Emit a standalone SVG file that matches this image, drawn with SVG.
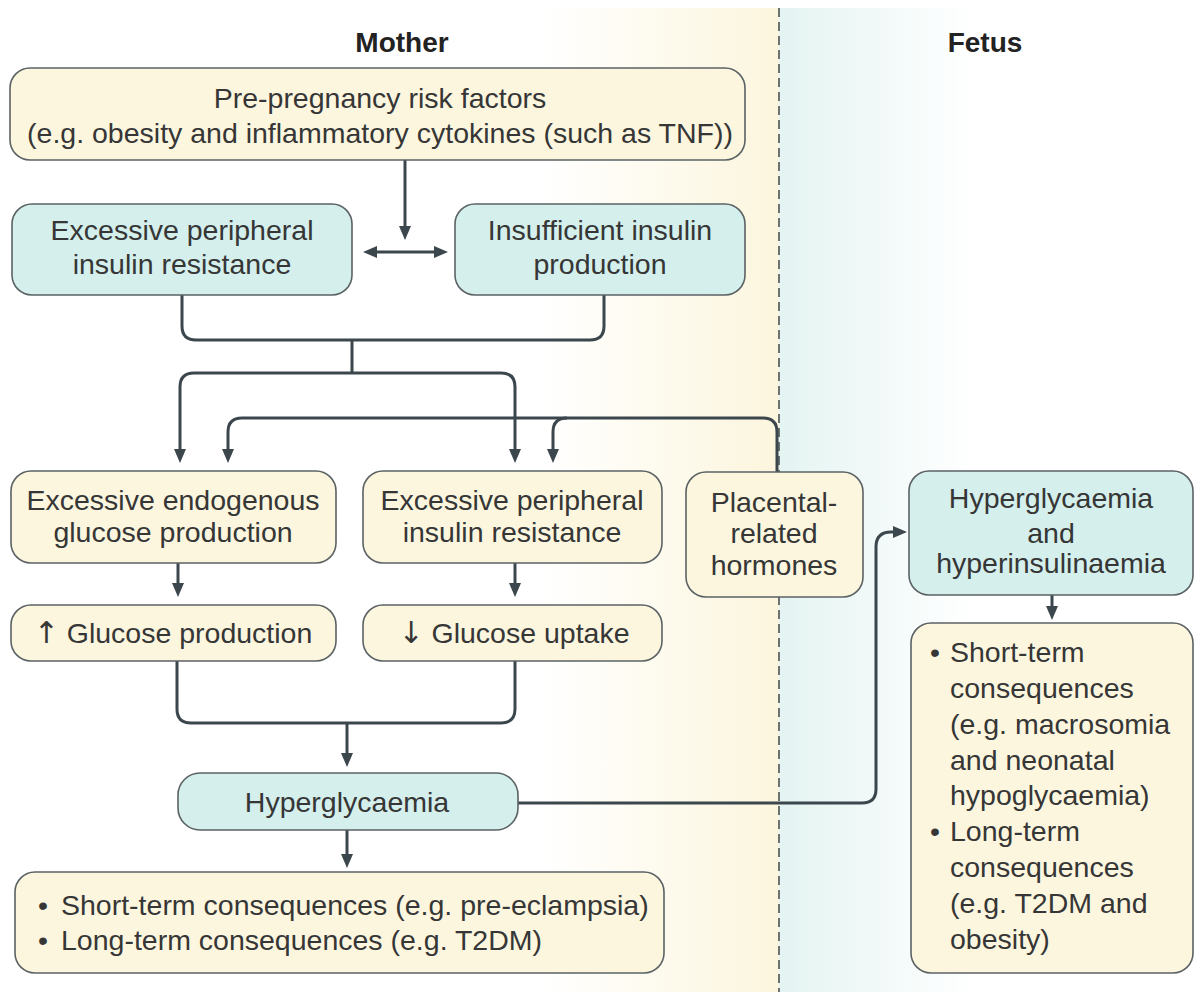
<svg xmlns="http://www.w3.org/2000/svg" width="1196" height="992" viewBox="0 0 1196 992">
<defs>
<linearGradient id="gMother" x1="540" y1="0" x2="770" y2="0" gradientUnits="userSpaceOnUse">
<stop offset="0" stop-color="#ffffff"/>
<stop offset="1" stop-color="#fcf6df"/>
</linearGradient>
<linearGradient id="gFetus" x1="780" y1="0" x2="975" y2="0" gradientUnits="userSpaceOnUse">
<stop offset="0" stop-color="#e4f4f2"/>
<stop offset="1" stop-color="#ffffff"/>
</linearGradient>
<marker id="ah" viewBox="0 0 14 12" markerWidth="14" markerHeight="12" refX="7" refY="6" orient="auto-start-reverse" markerUnits="userSpaceOnUse">
<path d="M0,0 L14,6 L0,12 z" fill="#3b474d"/>
</marker>
<style>
.cream{fill:#fcf6df;stroke:#5b6264;stroke-width:1.6}
.teal{fill:#d4efec;stroke:#5b6264;stroke-width:1.6}
.t{font-family:"Liberation Sans",Arial,sans-serif;font-size:28.5px;fill:#363636;text-anchor:middle}
.tl{font-family:"Liberation Sans",Arial,sans-serif;font-size:28.5px;fill:#363636;text-anchor:start}
.ar{font-family:"DejaVu Sans",sans-serif;font-size:30px}
.hd{font-family:"Liberation Sans",Arial,sans-serif;font-size:28px;font-weight:bold;fill:#222;text-anchor:middle}
.c{fill:none;stroke:#3b474d;stroke-width:3}
.ca{fill:none;stroke:#3b474d;stroke-width:3;marker-end:url(#ah)}
</style>
</defs>
<rect x="0" y="0" width="1196" height="992" fill="#ffffff"/>
<rect x="0" y="8" width="779" height="984" fill="url(#gMother)"/>
<rect x="779" y="8" width="417" height="984" fill="url(#gFetus)"/>
<line x1="779" y1="8" x2="779" y2="992" stroke="#4a5254" stroke-width="1.6" stroke-dasharray="9 5"/>
<text class="hd" x="402" y="52">Mother</text>
<text class="hd" x="985" y="52">Fetus</text>

<g id="connectors">
<path class="ca" d="M405,160 V233"/>
<path class="c" d="M370,252 H441" marker-start="url(#ah)" marker-end="url(#ah)"/>
<path class="c" d="M182,295 V326 Q182,340 196,340 H590 Q604,340 604,326 V295"/>
<path class="c" d="M352,340 V373"/>
<path class="ca" d="M180,456 V387 Q180,373 194,373 H501 Q515,373 515,387 V456" marker-start="url(#ah)"/>
<path class="ca" d="M777,472 V432 Q777,418 763,418 H242 Q228,418 228,432 V456"/>
<path class="ca" d="M567,418 Q553,418 553,432 V456"/>
<path class="ca" d="M178,563 V590"/>
<path class="ca" d="M515,563 V590"/>
<path class="c" d="M177,661 V709 Q177,723 191,723 H501 Q515,723 515,709 V661"/>
<path class="ca" d="M347,723 V760"/>
<path class="ca" d="M347,830 V861"/>
<path class="ca" d="M518,803 H862 Q876,803 876,789 V547 Q876,532 891,532 H900"/>
<path class="ca" d="M1052,595 V613"/>
</g>

<g id="n-prepregnancy">
<rect class="cream" x="10" y="68" width="735" height="92" rx="20"/>
<text class="t" x="380" y="108">Pre-pregnancy risk factors</text>
<text class="t" x="380" y="143">(e.g. obesity and inflammatory cytokines (such as TNF))</text>
</g>
<g id="n-resistance1">
<rect class="teal" x="12" y="204" width="340" height="91" rx="20"/>
<text class="t" x="182" y="240">Excessive peripheral</text>
<text class="t" x="182" y="274">insulin resistance</text>
</g>
<g id="n-insufficient">
<rect class="teal" x="455" y="204" width="290" height="91" rx="20"/>
<text class="t" x="600" y="240">Insufficient insulin</text>
<text class="t" x="600" y="274">production</text>
</g>
<g id="n-endogenous">
<rect class="cream" x="11" y="471" width="325" height="92" rx="20"/>
<text class="t" x="173" y="510">Excessive endogenous</text>
<text class="t" x="173" y="542">glucose production</text>
</g>
<g id="n-resistance2">
<rect class="cream" x="363" y="471" width="299" height="92" rx="20"/>
<text class="t" x="512" y="510">Excessive peripheral</text>
<text class="t" x="512" y="542">insulin resistance</text>
</g>
<g id="n-placental">
<rect class="cream" x="686" y="472" width="177" height="125" rx="20"/>
<text class="t" x="774" y="512">Placental-</text>
<text class="t" x="774" y="543">related</text>
<text class="t" x="774" y="575">hormones</text>
</g>
<g id="n-fetal-hyper">
<rect class="teal" x="909" y="471" width="284" height="124" rx="20"/>
<text class="t" x="1051" y="508">Hyperglycaemia</text>
<text class="t" x="1051" y="543">and</text>
<text class="t" x="1051" y="573">hyperinsulinaemia</text>
</g>
<g id="n-glucose-production">
<rect class="cream" x="11" y="605" width="325" height="56" rx="20"/>
<text class="t" x="173" y="643"><tspan class="ar">↑</tspan> Glucose production</text>
</g>
<g id="n-glucose-uptake">
<rect class="cream" x="363" y="605" width="299" height="56" rx="20"/>
<text class="t" x="514" y="643"><tspan class="ar">↓</tspan> Glucose uptake</text>
</g>
<g id="n-hyperglycaemia">
<rect class="teal" x="178" y="773" width="340" height="57" rx="22"/>
<text class="t" x="347" y="812">Hyperglycaemia</text>
</g>
<g id="n-mother-consequences">
<rect class="cream" x="15" y="872" width="649" height="101" rx="20"/>
<text class="tl" x="38" y="915">•</text>
<text class="tl" x="61" y="915">Short-term consequences (e.g. pre-eclampsia)</text>
<text class="tl" x="38" y="950">•</text>
<text class="tl" x="61" y="950">Long-term consequences (e.g. T2DM)</text>
</g>
<g id="n-fetal-consequences">
<rect class="cream" x="911" y="623" width="282" height="350" rx="20"/>
<text class="tl" x="930" y="662">•</text>
<text class="tl" x="950" y="662">Short-term</text>
<text class="tl" x="950" y="698">consequences</text>
<text class="tl" x="950" y="734">(e.g. macrosomia</text>
<text class="tl" x="950" y="770">and neonatal</text>
<text class="tl" x="950" y="805">hypoglycaemia)</text>
<text class="tl" x="930" y="841">•</text>
<text class="tl" x="950" y="841">Long-term</text>
<text class="tl" x="950" y="877">consequences</text>
<text class="tl" x="950" y="913">(e.g. T2DM and</text>
<text class="tl" x="950" y="949">obesity)</text>
</g>
</svg>
